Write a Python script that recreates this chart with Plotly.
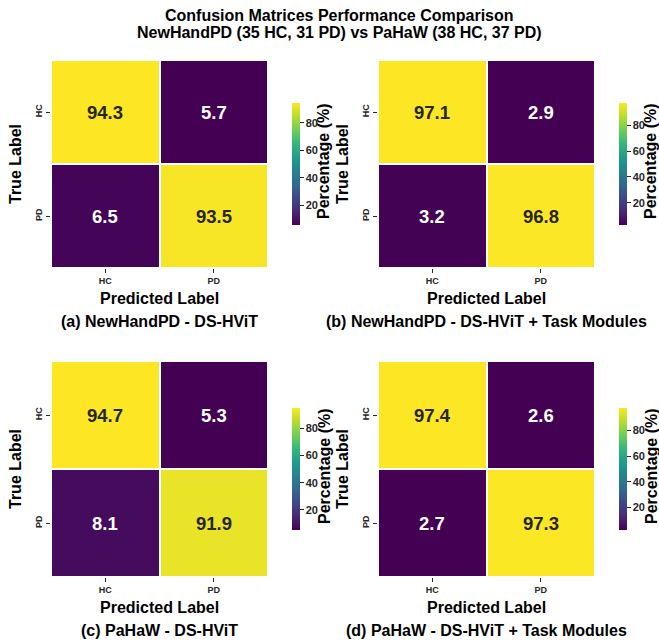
import plotly.graph_objects as go

# Confusion matrices (row-normalised, %) for the four model/dataset settings
classes = ["HC", "PD"]
cm_newhand_base = [[94.3, 5.7], [6.5, 93.5]]
cm_newhand_task = [[97.1, 2.9], [3.2, 96.8]]
cm_pahaw_base = [[94.7, 5.3], [8.1, 91.9]]
cm_pahaw_task = [[97.4, 2.6], [2.7, 97.3]]
panel_captions = [
    "(a) NewHandPD - DS-HViT",
    "(b) NewHandPD - DS-HViT + Task Modules",
    "(c) PaHaW - DS-HViT",
    "(d) PaHaW - DS-HViT + Task Modules",
]
title_lines = [
    "Confusion Matrices Performance Comparison",
    "NewHandPD (35 HC, 31 PD) vs PaHaW (38 HC, 37 PD)",
]
cbar_ticks = [20, 40, 60, 80]

W, H = 659, 641
FONT = "Liberation Sans, Arial, sans-serif"
DARK = "#262626"


def px_x(p):
    return p / W


def px_y(p):
    return 1 - p / H


# pixel layout of each panel: heatmap box (x0, x1, y0, y1) and colorbar left edge
panels = [
    dict(cm=cm_newhand_base, box=(51, 268, 60, 268), cbx=282),
    dict(cm=cm_newhand_task, box=(378, 595, 60, 268), cbx=609),
    dict(cm=cm_pahaw_base, box=(51, 268, 361, 577), cbx=282),
    dict(cm=cm_pahaw_task, box=(378, 595, 361, 577), cbx=609),
]

fig = go.Figure()
annotations = []
layout_axes = {}

for i, (p, caption) in enumerate(zip(panels, panel_captions)):
    k = "" if i == 0 else str(i + 1)
    x0, x1, y0, y1 = p["box"]
    cm = p["cm"]
    flat = [v for row in cm for v in row]
    zmin, zmax = min(flat), max(flat)
    cx = (x0 + x1) / 2
    cy = (y0 + y1) / 2

    fig.add_trace(go.Heatmap(
        z=cm, x=classes, y=classes,
        xaxis="x" + k, yaxis="y" + k,
        colorscale="Viridis", zmin=zmin, zmax=zmax,
        xgap=2, ygap=2, hoverinfo="skip",
        colorbar=dict(
            x=px_x(p["cbx"]), xanchor="left", xref="paper",
            y=px_y(cy), yanchor="middle", yref="paper",
            thickness=8, lenmode="pixels", len=142,
            outlinewidth=0, ticks="outside", ticklen=4, tickwidth=1.2,
            tickcolor=DARK, tickvals=cbar_ticks,
            tickfont=dict(family=FONT, size=11, color=DARK, weight="bold"),
        ),
    ))

    layout_axes["xaxis" + k] = dict(
        domain=[px_x(x0), px_x(x1)], anchor="y" + k, type="category",
        categoryorder="array", categoryarray=classes,
        showgrid=False, zeroline=False, showline=False,
        ticks="outside", ticklen=4, tickwidth=1.2, tickcolor=DARK,
        tickfont=dict(family=FONT, size=9, color=DARK, weight="bold"),
    )
    layout_axes["yaxis" + k] = dict(
        domain=[px_y(y1), px_y(y0)], anchor="x" + k, type="category",
        categoryorder="array", categoryarray=classes, autorange="reversed",
        showgrid=False, zeroline=False, showline=False,
        ticks="outside", ticklen=4, tickwidth=1.2, tickcolor=DARK, tickangle=-90,
        tickfont=dict(family=FONT, size=9, color=DARK, weight="bold"),
    )

    # cell values
    for r, true_cls in enumerate(classes):
        for c, pred_cls in enumerate(classes):
            v = cm[r][c]
            frac = (v - zmin) / (zmax - zmin)
            annotations.append(dict(
                x=pred_cls, y=true_cls, xref="x" + k, yref="y" + k,
                text=f"{v:.1f}", showarrow=False,
                font=dict(family=FONT, size=18.5, weight="bold",
                          color=DARK if frac > 0.5 else "white"),
            ))

    # axis titles, colorbar title and panel caption
    annotations.append(dict(
        x=px_x(cx), y=px_y(y1 + 30), xref="paper", yref="paper",
        text="Predicted Label", showarrow=False,
        xanchor="center", yanchor="middle",
        font=dict(family=FONT, size=16, color="black", weight="bold"),
    ))
    annotations.append(dict(
        x=px_x(cx), y=px_y(y1 + 53), xref="paper", yref="paper",
        text=caption, showarrow=False,
        xanchor="center", yanchor="middle",
        font=dict(family=FONT, size=16, color="black", weight="bold"),
    ))
    annotations.append(dict(
        x=px_x(x0 - 36), y=px_y(cy), xref="paper", yref="paper",
        text="True Label", showarrow=False, textangle=-90,
        xanchor="center", yanchor="middle",
        font=dict(family=FONT, size=16, color="black", weight="bold"),
    ))
    annotations.append(dict(
        x=px_x(p["cbx"] + 42), y=px_y(cy - 3), xref="paper", yref="paper",
        text="Percentage (%)", showarrow=False, textangle=-90,
        xanchor="center", yanchor="middle",
        font=dict(family=FONT, size=16, color="black", weight="bold"),
    ))

for line, ty in zip(title_lines, [15, 32]):
    annotations.append(dict(
        x=px_x(339.5), y=px_y(ty), xref="paper", yref="paper",
        text=line, showarrow=False, xanchor="center", yanchor="middle",
        font=dict(family=FONT, size=16, color="black", weight="bold"),
    ))

fig.update_layout(
    width=W, height=H,
    margin=dict(l=0, r=0, t=0, b=0, autoexpand=False),
    paper_bgcolor="white", plot_bgcolor="white",
    annotations=annotations,
    **layout_axes,
)

fig.write_html("out.html")
